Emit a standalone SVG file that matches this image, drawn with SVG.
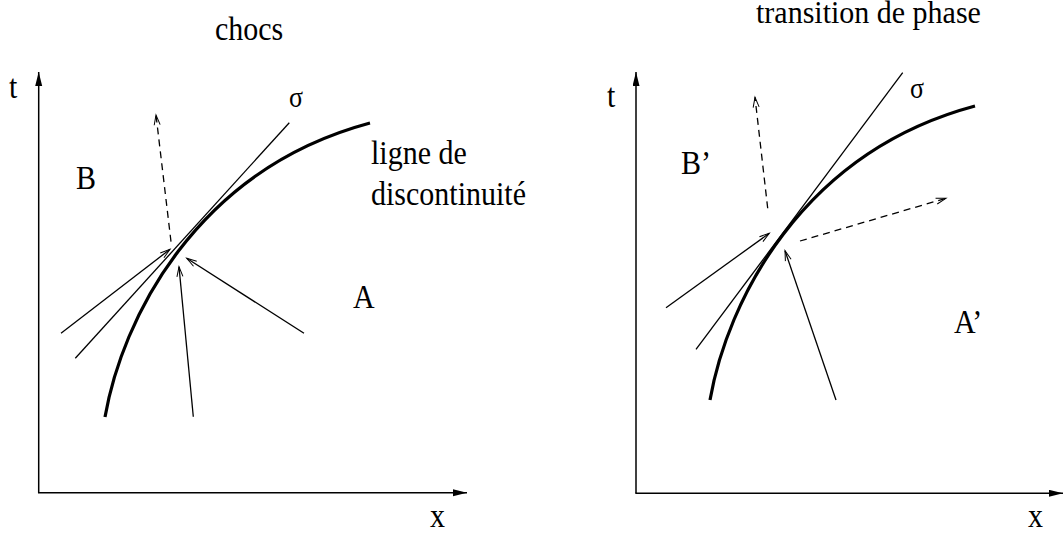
<svg xmlns="http://www.w3.org/2000/svg" width="1064" height="536" viewBox="0 0 1064 536">
<style>
text{font-family:"Liberation Serif","Times New Roman",serif;fill:#000}
.lbl{font-size:30px}
.sig{font-size:26px}
.axis{stroke:#000;stroke-width:1.5;fill:none}
.curve{stroke:#000;stroke-width:3.2;fill:none;stroke-linecap:butt}
.tan{stroke:#000;stroke-width:1.3;fill:none}
.arr{stroke:#000;stroke-width:1.3;fill:none}
.dash{stroke:#000;stroke-width:1.3;fill:none;stroke-dasharray:7,5}
</style>
<defs>
<marker id="ax" markerUnits="userSpaceOnUse" markerWidth="15" markerHeight="8" refX="14" refY="3.5" orient="auto">
<path d="M0,0 L14,3.5 L0,7 z" fill="#000"/>
</marker>
<marker id="open" markerUnits="userSpaceOnUse" markerWidth="13" markerHeight="8" refX="11" refY="4" orient="auto">
<path d="M1,1 L11,4 L1,7" fill="none" stroke="#000" stroke-width="1" stroke-dasharray="none"/>
</marker>
</defs>
<rect width="1064" height="536" fill="#fff"/>

<g id="titles">
<text class="lbl" transform="translate(215,40) scale(1,1.12)">chocs</text>
<text class="lbl" transform="translate(756,23) scale(1,1.05)">transition de phase</text>
</g>

<g id="axes-left">
<line class="axis" x1="38.7" y1="493" x2="38.7" y2="72" marker-end="url(#ax)"/>
<line class="axis" x1="38" y1="492.7" x2="467" y2="492.7" marker-end="url(#ax)"/>
<text class="lbl" transform="translate(9,98) scale(1,1.12)">t</text>
<text class="lbl" transform="translate(430,527) scale(1,1.12)">x</text>
</g>

<g id="axes-right">
<line class="axis" x1="636" y1="493" x2="636" y2="72" marker-end="url(#ax)"/>
<line class="axis" x1="635.3" y1="493.3" x2="1063" y2="493.3" marker-end="url(#ax)"/>
<text class="lbl" transform="translate(607,107) scale(1,1.12)">t</text>
<text class="lbl" transform="translate(1028,527) scale(1,1.12)">x</text>
</g>

<g id="shock-curve">
<path class="curve" d="M105,417 C122,320 195,170 370,123"/>
<line class="tan" x1="75.3" y1="358.3" x2="289.3" y2="122.7"/>
<text class="sig" transform="translate(289,107) scale(1,1.12)">σ</text>
</g>

<g id="phase-curve">
<path class="curve" d="M710,400 C727,303 800,153 975,106"/>
<line class="tan" x1="696" y1="349.3" x2="902.7" y2="72.7"/>
<text class="sig" transform="translate(910,98) scale(1,1.12)">σ</text>
</g>

<g id="region-labels">
<text class="lbl" transform="translate(76,189) scale(1,1.12)">B</text>
<text class="lbl" transform="translate(353,308) scale(1,1.12)">A</text>
<text class="lbl" transform="translate(371,164) scale(1,1.12)">ligne de</text>
<text class="lbl" transform="translate(371,205) scale(1,1.12)">discontinuité</text>
<text class="lbl" transform="translate(681,174) scale(1,1.12)">B’</text>
<text class="lbl" transform="translate(954,333) scale(1,1.12)">A’</text>
</g>

<g id="connectors">
<line class="dash" x1="171" y1="241.7" x2="156" y2="115" marker-end="url(#open)"/>
<line class="arr" x1="61" y1="333.3" x2="170" y2="249.3" marker-end="url(#open)"/>
<line class="arr" x1="193.3" y1="416.7" x2="179" y2="266.7" marker-end="url(#open)"/>
<line class="arr" x1="304" y1="333.3" x2="186.7" y2="258.3" marker-end="url(#open)"/>
<line class="dash" x1="767.7" y1="208.3" x2="755" y2="97.3" marker-end="url(#open)"/>
<line class="dash" x1="800" y1="241" x2="946" y2="198.3" marker-end="url(#open)"/>
<line class="arr" x1="666" y1="307.7" x2="769.3" y2="233.3" marker-end="url(#open)"/>
<line class="arr" x1="836" y1="400" x2="785" y2="250.7" marker-end="url(#open)"/>
</g>
</svg>
